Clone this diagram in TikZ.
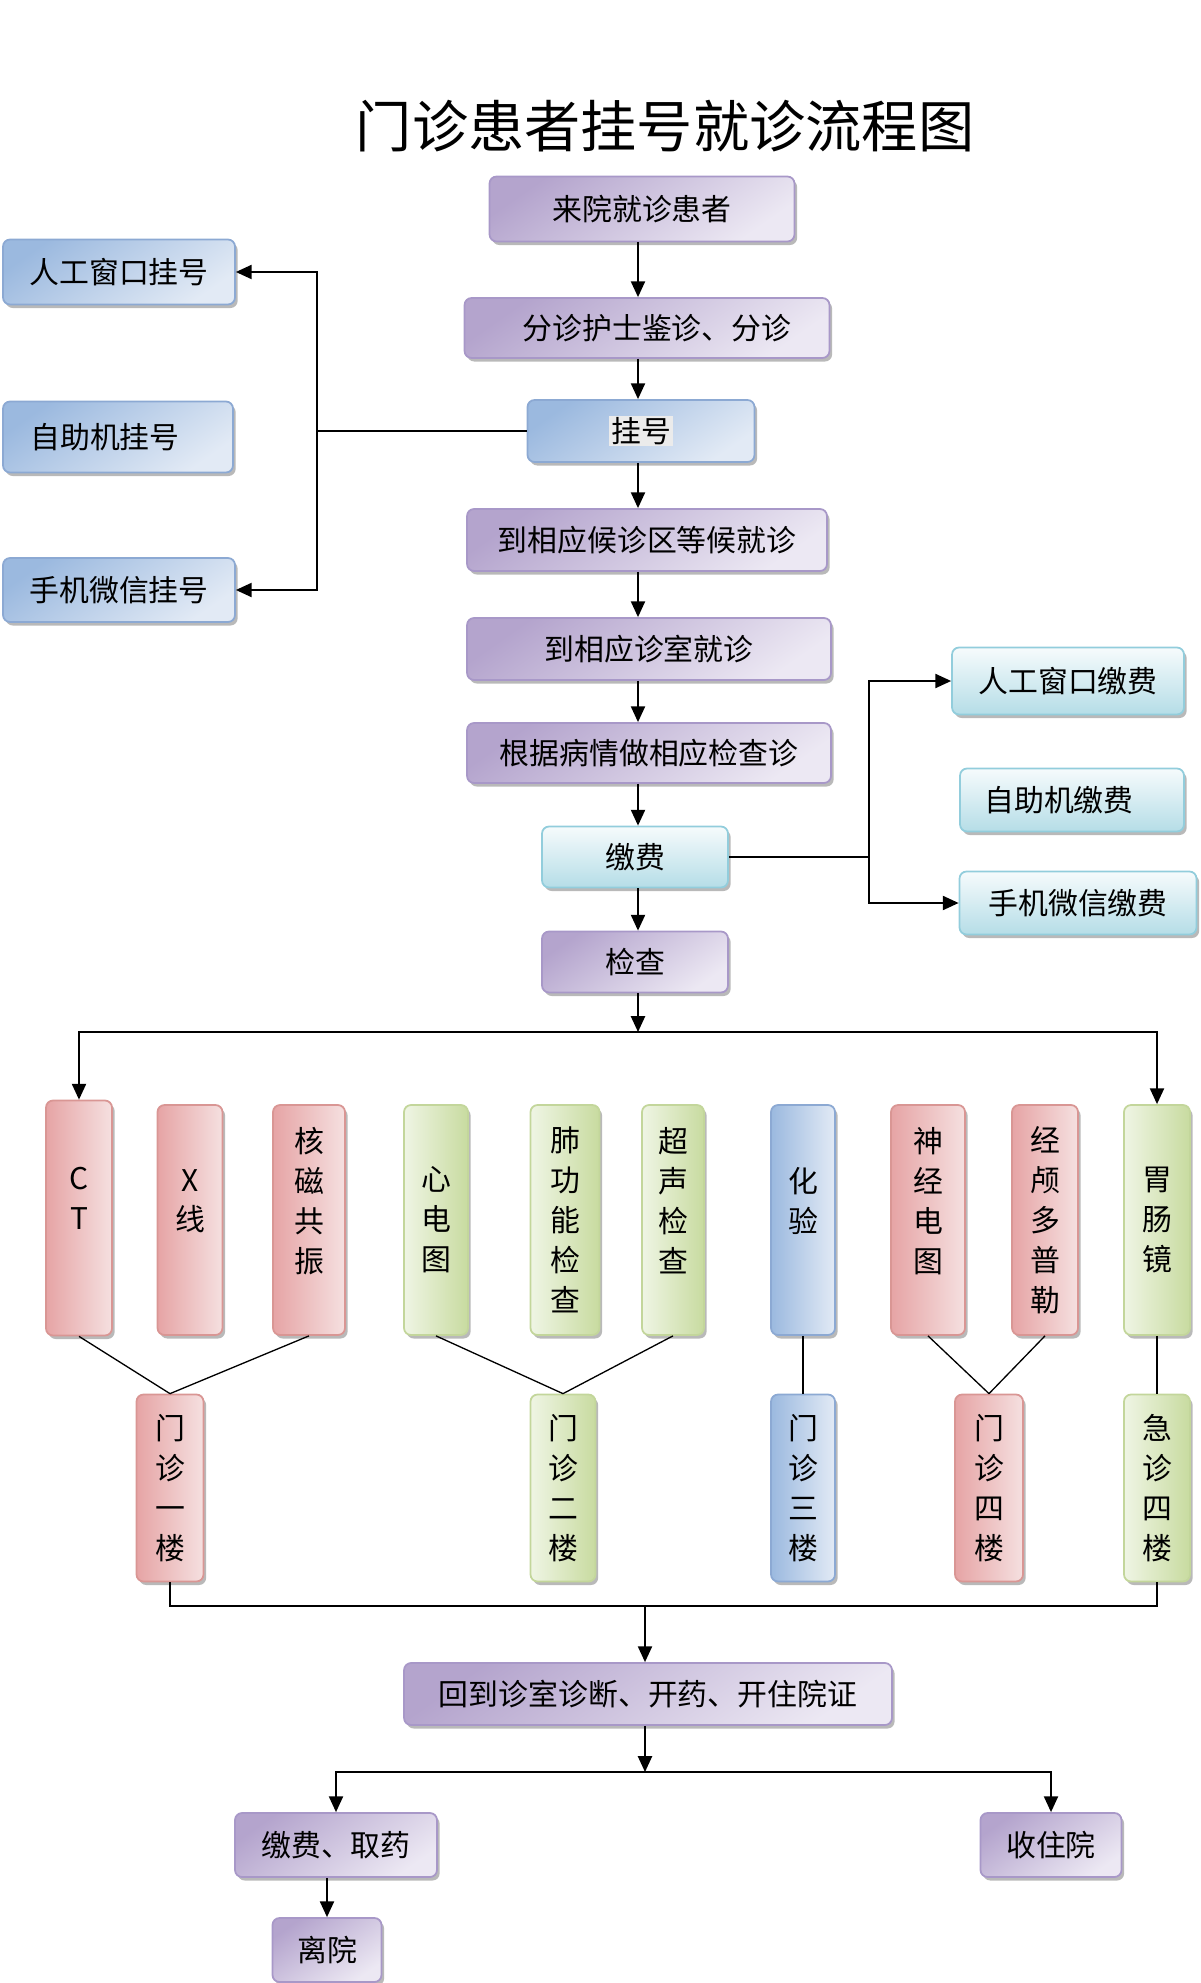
\documentclass[tikz,border=0pt]{standalone}
\usepackage{fontspec}
\setmainfont{Noto Sans CJK SC}
\usepackage{xcolor}
\usetikzlibrary{shapes,arrows.meta,positioning,shadows,calc}

\definecolor{purpB}{HTML}{A898C8}
\definecolor{purpD}{HTML}{B4A4CD}
\definecolor{purpL}{HTML}{ECE8F3}
\definecolor{blueB}{HTML}{8CA9D3}
\definecolor{blueD}{HTML}{9BB9DF}
\definecolor{blueL}{HTML}{E2EAF5}
\definecolor{cyanB}{HTML}{92CDDC}
\definecolor{cyanD}{HTML}{B5DDE7}
\definecolor{cyanL}{HTML}{F6FBFC}
\definecolor{redB}{HTML}{D99694}
\definecolor{redD}{HTML}{E6A4A5}
\definecolor{redL}{HTML}{F5E0E0}
\definecolor{grnB}{HTML}{C3D69B}
\definecolor{grnD}{HTML}{C8DBA0}
\definecolor{grnL}{HTML}{EFF5E4}
\definecolor{hlgray}{HTML}{EBEBEB}

\begin{document}
\begin{tikzpicture}[x=0.02cm, y=-0.02cm, every node/.style={font=\fontsize{17}{22.7}\selectfont},
	box/.style={rectangle, rounded corners=4pt, line width=1pt, inner sep=0pt, align=center,
		drop shadow={shadow xshift=1.5pt, shadow yshift=-2pt, fill=black!50, opacity=.55}},
	purp/.style={box, draw=purpB, top color=purpD, bottom color=purpL, shading angle=35},
	blu/.style={box, draw=blueB, top color=blueD, bottom color=blueL, shading angle=35},
	cyn/.style={box, draw=cyanB, top color=cyanL, bottom color=cyanD},
	redtall/.style={box, draw=redB, left color=redD, right color=redL},
	grntall/.style={box, draw=grnB, left color=grnL, right color=grnD},
	blutall/.style={box, draw=blueB, left color=blueD, right color=blueL},
	arr/.style={-{Triangle[length=9pt,width=8pt]}, line width=1.1pt},
	thinline/.style={line width=0.75pt}]
	\useasboundingbox (0,0) rectangle (1200,1983);
	\coordinate (axis) at (638,0);
	
	\node[font=\fontsize{32}{38}\selectfont] (title) at (665,126) {门诊患者挂号就诊流程图};
	
	\node[purp, minimum width=6.1cm, minimum height=1.3cm] (b1) at (642,209) {来院就诊患者};
	\node[purp, minimum width=7.3cm, minimum height=1.2cm] (b2) at (647,328) {\hspace*{0.4cm}分诊护士鉴诊、分诊};
	\node[blu, minimum width=4.54cm, minimum height=1.24cm] (b3) at (641,431) {\setlength{\fboxsep}{1pt}\colorbox{hlgray}{挂号}};
	\node[purp, minimum width=7.2cm, minimum height=1.24cm] (b4) at (647,540) {到相应候诊区等候就诊};
	\node[purp, minimum width=7.28cm, minimum height=1.24cm] (b5) at (649,649) {到相应诊室就诊};
	\node[purp, minimum width=7.28cm, minimum height=1.2cm] (b6) at (649,753) {根据病情做相应检查诊};
	\node[cyn, minimum width=3.72cm, minimum height=1.22cm] (b7) at (635,857) {缴费};
	\node[purp, minimum width=3.72cm, minimum height=1.22cm] (b8) at (635,962) {检查};
	
	\node[blu, minimum width=4.64cm, minimum height=1.3cm] (l1) at (119,272) {人工窗口挂号};
	\node[blu, minimum width=4.6cm, minimum height=1.42cm] (l2) at (118,437) {自助机挂号\hspace*{0.52cm}};
	\node[blu, minimum width=4.64cm, minimum height=1.28cm] (l3) at (119,590) {手机微信挂号};
	
	\node[cyn, minimum width=4.64cm, minimum height=1.34cm] (r1) at (1068,681) {人工窗口缴费};
	\node[cyn, minimum width=4.48cm, minimum height=1.26cm] (r2) at (1072,800) {自助机缴费\hspace*{0.52cm}};
	\node[cyn, minimum width=4.74cm, minimum height=1.26cm] (r3) at (1078,903) {手机微信缴费};
	
	\node[redtall, minimum width=1.32cm, minimum height=4.7cm] (ct) at (79,1218) {C\\T\\~};
	\node[redtall, minimum width=1.3cm, minimum height=4.6cm] (xr) at (190,1220) {X\\线\\~};
	\node[redtall, minimum width=1.44cm, minimum height=4.6cm] (hc) at (309,1220) {核\\磁\\共\\振\\~};
	\node[grntall, minimum width=1.28cm, minimum height=4.6cm] (xd) at (436,1220) {心\\电\\图};
	\node[grntall, minimum width=1.38cm, minimum height=4.6cm] (fg) at (565,1220) {肺\\功\\能\\检\\查};
	\node[grntall, minimum width=1.24cm, minimum height=4.6cm] (cs) at (673,1220) {超\\声\\检\\查\\~};
	\node[blutall, minimum width=1.28cm, minimum height=4.6cm] (hy) at (803,1220) {化\\验\\~};
	\node[redtall, minimum width=1.48cm, minimum height=4.6cm] (sj) at (928,1220) {神\\经\\电\\图\\~};
	\node[redtall, minimum width=1.32cm, minimum height=4.6cm] (jl) at (1045,1220) {经\\颅\\多\\普\\勒};
	\node[grntall, minimum width=1.32cm, minimum height=4.6cm] (wc) at (1157,1220) {胃\\肠\\镜};
	
	\node[redtall, minimum width=1.34cm, minimum height=3.74cm] (f1) at (170,1488) {门\\诊\\一\\楼};
	\node[grntall, minimum width=1.3cm, minimum height=3.74cm] (f2) at (563,1488) {门\\诊\\二\\楼};
	\node[blutall, minimum width=1.28cm, minimum height=3.74cm] (f3) at (803,1488) {门\\诊\\三\\楼};
	\node[redtall, minimum width=1.36cm, minimum height=3.74cm] (f4) at (989,1488) {门\\诊\\四\\楼};
	\node[grntall, minimum width=1.32cm, minimum height=3.74cm] (f5) at (1157,1488) {急\\诊\\四\\楼};
	
	\node[purp, minimum width=9.76cm, minimum height=1.24cm] (c1) at (648,1694) {回到诊室诊断、开药、开住院证};
	\node[purp, minimum width=4.04cm, minimum height=1.28cm] (q1) at (336,1845) {缴费、取药};
	\node[purp, minimum width=2.82cm, minimum height=1.28cm] (q2) at (1051,1845) {收住院};
	\node[purp, minimum width=2.18cm, minimum height=1.28cm] (q3) at (327,1950) {离院};
	
	\coordinate (jl1) at (317,428);
	\coordinate (jr1) at (869,856);
	\coordinate (ht) at (638,1032);
	\coordinate (hb) at (645,1606);
	\coordinate (hq) at (645,1772);
	
	\draw[arr] (b1.south -| axis) -- (b2.north -| axis);
	\draw[arr] (b2.south -| axis) -- (b3.north -| axis);
	\draw[arr] (b3.south -| axis) -- (b4.north -| axis);
	\draw[arr] (b4.south -| axis) -- (b5.north -| axis);
	\draw[arr] (b5.south -| axis) -- (b6.north -| axis);
	\draw[arr] (b6.south -| axis) -- (b7.north -| axis);
	\draw[arr] (b7.south -| axis) -- (b8.north -| axis);
	
	\draw[arr] (b3.west) -- (b3.west -| jl1) |- (l1.east);
	\draw[arr] (b3.west -| jl1) |- (l3.east);
	\draw[arr] (b7.east) -- (b7.east -| jr1) |- (r1.west);
	\draw[arr] (b7.east -| jr1) |- (r3.west);
	
	\draw[arr] (b8.south -| axis) -- (ht);
	\draw[arr] (ht) -| (ct.north);
	\draw[arr] (ht) -| (wc.north);
	
	\draw[thinline] (ct.south) -- (f1.north);
	\draw[thinline] (hc.south) -- (f1.north);
	\draw[thinline] (xd.south) -- (f2.north);
	\draw[thinline] (cs.south) -- (f2.north);
	\draw[thinline] (hy.south) -- (f3.north);
	\draw[thinline] (sj.south) -- (f4.north);
	\draw[thinline] (jl.south) -- (f4.north);
	\draw[thinline] (wc.south) -- (f5.north);
	
	\draw[thinline] (f1.south) -- (f1.south |- hb) -- (f5.south |- hb) -- (f5.south);
	\draw[arr] (hb) -- (c1.north -| hb);
	\draw[arr] (c1.south -| hq) -- (hq);
	\draw[arr] (hq) -| (q1.north);
	\draw[arr] (hq) -| (q2.north);
	\draw[arr] (q1.south -| q3.north) -- (q3.north);
\end{tikzpicture}
\end{document}
